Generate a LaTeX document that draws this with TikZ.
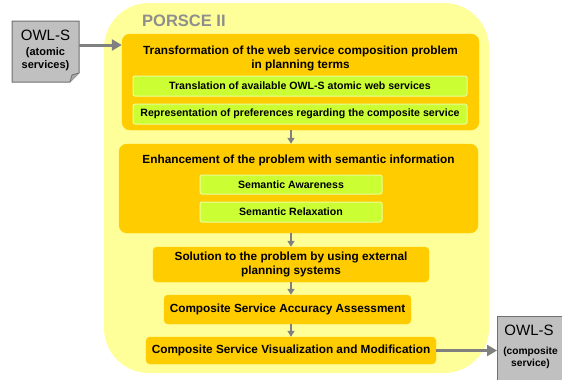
\documentclass[tikz,border=0pt]{standalone}
\usepackage{fontspec}
\setmainfont{Liberation Sans}
\usetikzlibrary{arrows.meta}
\definecolor{outery}{HTML}{FFFF99}
\definecolor{orangeb}{HTML}{FFCC00}
\definecolor{greenb}{HTML}{CCFF33}
\definecolor{greenedge}{HTML}{E8FF99}
\definecolor{grayb}{HTML}{C0C0C0}
\definecolor{grayedge}{HTML}{707070}
\definecolor{arrowg}{HTML}{808080}
\definecolor{titleg}{HTML}{8E8E8E}
\begin{document}
\begin{tikzpicture}[x=1pt,y=-1pt,
  obox/.style={fill=orangeb,draw=orangeb,rounded corners=8pt,inner sep=0pt},
  gbox/.style={fill=greenb,draw=greenedge,line width=1pt,rounded corners=2pt,inner sep=0pt,
     font=\fontsize{10.6}{12}\selectfont\bfseries},
  ttext/.style={font=\fontsize{11.8}{14}\selectfont\bfseries,align=center,inner sep=0pt},
  flow/.style={draw=arrowg,line width=2pt,-{Triangle[width=7pt,length=6pt]}},
  bigflow/.style={draw=arrowg,line width=3pt,-{Triangle[width=11pt,length=10pt]}}]
\useasboundingbox (0,0) rectangle (562,380);
\clip (0,0) rectangle (562,380);
% outer container
\node[fill=outery,rounded corners=45pt,minimum width=385pt,minimum height=370pt,inner sep=0pt] (outer) at (296.5,188) {};
\node[font=\fontsize{16.5}{17}\selectfont\bfseries,text=titleg,anchor=west,inner sep=0pt] (ptitle) at (142,21) {PORSCE II};
% box 1
\node[obox,minimum width=357pt,minimum height=96pt] (b1) at (300.5,82) {};
\node[ttext] (t1) at (300.5,58) {Transformation of the web service composition problem\\in planning terms};
\node[gbox,minimum width=334pt,minimum height=20pt] (g1) at (300,86) {Translation of available OWL-S atomic web services};
\node[gbox,minimum width=334pt,minimum height=20pt] (g2) at (300,114) {Representation of preferences regarding the composite service};
% box 2
\node[obox,minimum width=359pt,minimum height=89pt] (b2) at (298.5,188.5) {};
\node[ttext] (t2) at (298.5,160) {Enhancement of the problem with semantic information};
\node[gbox,minimum width=182pt,minimum height=19pt] (g3) at (291,184.5) {Semantic Awareness};
\node[gbox,minimum width=182pt,minimum height=20pt] (g4) at (291,212) {Semantic Relaxation};
% box 3-5
\node[obox,ttext,rounded corners=4pt,minimum width=276pt,minimum height=35pt] (b3) at (291,264.5) {Solution to the problem by using external\\planning systems};
\node[obox,ttext,rounded corners=4pt,minimum width=247pt,minimum height=29pt] (b4) at (287.5,309.5) {Composite Service Accuracy Assessment};
\node[obox,ttext,rounded corners=4pt,minimum width=290pt,minimum height=27pt] (b5) at (291,350.5) {Composite Service Visualization and Modification};
% OWL-S left (folded corner)
\path[fill=grayb,draw=grayedge,line width=1pt] (12,21) -- (79,21) -- (79,73) -- (70,82) -- (12,82) -- cycle;
\draw[grayedge,line width=0.8pt,fill=grayedge!60] (79,73) -- (72,75) -- (70,82);
\coordinate (inL) at (79,45);
\node[font=\fontsize{15}{16}\selectfont,inner sep=0pt] (owl1) at (45.5,35) {OWL-S};
\node[font=\fontsize{11}{13}\selectfont\bfseries,align=center,inner sep=0pt] (owl1s) at (45.5,59.5) {(atomic\\services)};
% OWL-S right
\node[fill=grayb,draw=grayedge,line width=1pt,minimum width=80pt,minimum height=80pt,inner sep=0pt,anchor=north west] (owl2box) at (497,316) {};
\node[font=\fontsize{15}{16}\selectfont,inner sep=0pt] (owl2) at (529,330) {OWL-S};
\node[font=\fontsize{10.2}{12}\selectfont\bfseries,align=center,inner sep=0pt] (owl2s) at (530.5,358) {(composite\\service)};
% arrows
\draw[bigflow] (inL) -- (b1.west |- inL);
\draw[flow] (b1.south -| b3) -- (b2.north -| b3);
\draw[flow] (b2.south -| b3) -- (b3.north);
\draw[flow] (b3.south) -- (b4.north -| b3);
\draw[flow] (b4.south -| b3) -- (b5.north);
\draw[bigflow] (b5.east) -- (owl2box.west |- b5.east);
\end{tikzpicture}
\end{document}
